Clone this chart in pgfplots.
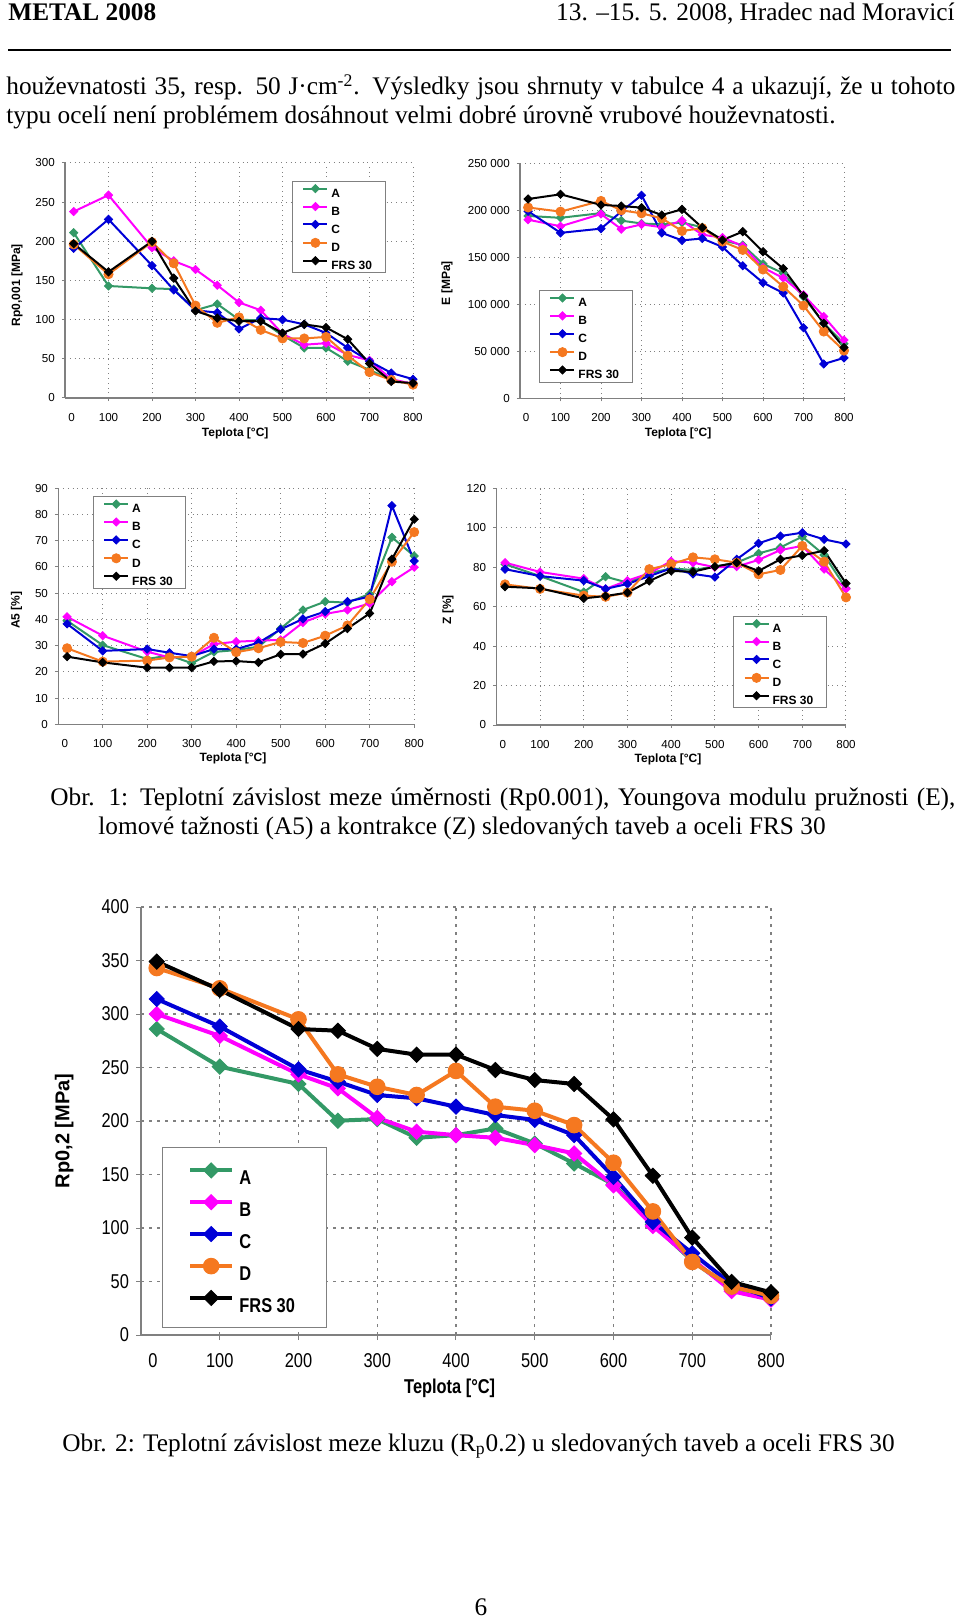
\documentclass[border=0pt]{standalone}
\usepackage{pgfplots}
\pgfplotsset{compat=1.18}
\usepackage{pgfplotstable}
\usepackage{fontspec}
\setmainfont{Liberation Serif}
\newfontfamily\arial{Liberation Sans}
\newfontfamily\arialn[FakeStretch=0.82]{Liberation Sans}

\definecolor{cA}{RGB}{51,153,102}
\definecolor{cB}{RGB}{255,0,255}
\definecolor{cC}{RGB}{0,0,215}
\definecolor{cD}{RGB}{245,120,32}
\definecolor{axgray}{RGB}{128,128,128}

\newcommand\px[2]{({(#1)*0.5pt},{-(#2)*0.5pt})}

\pgfplotstableread{
T A B C D F
20  211 238 191 196 197
100 143 259 228 158 161
200 140 192 169 199 200
250 139 175 138 172 153
300 112 164 112 118 111
350 120 144 109 96 102
400 100 122 88 103 98
450 99 112 102 87 98
500 80 82 100 76 83
550 64 68 94 76 94
600 64 70 83 78 90
650 47 55 64 54 75
700 36 48 47 33 44
750 23 24 32 23 21
800 18 18 24 17 19
}\rpa

\pgfplotstableread{
T A B C D F
20  194000 190000 199000 203000 212000
100 192000 183000 176000 198600 217000
200 197000 196000 180500 210000 205700
250 189000 180000 198600 200000 204600
300 186000 185000 216000 196800 202800
350 185000 182000 176000 191500 195000
400 187000 189000 168000 178000 201000
450 182000 174000 170000 181000 181600
500 168000 171000 161000 166700 168400
550 163000 162000 141000 157800 177300
600 143000 139000 123000 137000 156000
650 133000 128000 112000 118800 138000
700 108000 110000 75000 98600 109000
750 80000 87000 36500 71000 79800
800 58000 62000 43000 50700 54000
}\modE

\pgfplotstableread{
T A B C D F
20  39.5 41 38.3 29 25.8
100 30.2 33.8 28 23.9 23.6
200 24.9 27.7 28.7 24.3 21.6
250 26.3 25.5 27.3 25.5 21.6
300 23.3 25.8 26 25.8 21.6
350 27.6 30.6 28.7 33 24
400 28.3 31.5 28.7 27.5 24.1
450 29.6 31.9 31.1 29 23.6
500 36.5 32.2 36.2 31.4 26.7
550 43.6 38.8 40.2 31 26.8
600 46.8 42.1 43 33.8 30.8
650 46.4 43.6 46.8 37.7 36.5
700 49.7 46.1 48.7 47.7 42.3
750 71.3 54.4 83.4 62 63
800 64.2 59.9 62.3 73.3 78.2
}\afive

\pgfplotstableread{
T A B C D F
20  81.5 82.3 79 71.3 70.1
100 75.5 77.6 75.5 69 69.3
200 67.4 74.2 73.2 65.6 64.2
250 75.2 69 69 65 65.4
300 72.2 73.2 71.5 67.1 67.1
350 76.9 76.9 75.5 79 73
400 79.4 83.1 79.4 81.5 78.1
450 78.6 82.3 76.6 85 77.7
500 80.3 80 75 84 80.3
550 82.3 80.3 84 82.3 82.3
600 87 83.7 92.1 76.4 78.1
650 90 88.7 95.8 78.6 84
700 95.5 90.8 97.5 90.8 86
750 86.2 79 94.1 82.8 88.4
800 69.3 69 91.8 64.7 71.8
}\zet

\pgfplotstableread{
T A B C D F
20  286 300 314 343 349
100 250.8 279.5 288.3 324 322.6
200 234.6 243.6 248.3 295 286
250 200.3 230.5 236.8 243.6 284.4
300 201.8 203 224.3 232 267.4
350 184.3 190 221.2 224.3 262
400 186.8 186.8 213.4 246.8 262
450 193 184.3 205.6 213.4 247.7
500 179 177.5 201 209.6 238.3
550 160.3 169.7 186.8 196.2 234.6
600 140.7 139.8 147.8 161 201.5
650 103.4 101.9 105.6 115.5 148.8
700 69.3 70.8 76.4 68.3 91
750 42.9 41 47.5 45.3 49.7
800 34.2 33 34.2 36.6 39.8
}\rpb

\pgfplotsset{
  /pgf/number format/assume math mode=true,
  common/.style={
    scale only axis, axis lines*=left,
    axis line style={axgray, line width=0.6pt},
    xmin=0, xmax=800, xtick={100,200,...,800},
    extra x ticks={15}, extra x tick labels={0},
    extra x tick style={grid=none, major tick style={draw=none}},
    grid=major, tick align=outside,
    tick style={axgray, line width=0.5pt},
    legend cell align=left,
    ylabel style={anchor=center},
    xlabel style={anchor=center},
  },
  small/.style={
    common,
    major grid style={axgray, dotted, line width=0.5pt},
    major tick length=1.6pt,
    ticklabel style={font=\arial\fontsize{5.8}{7}\selectfont, text=black},
    xticklabel style={yshift=-2.4pt},
    label style={font=\arial\bfseries\fontsize{6}{7}\selectfont},
    legend style={anchor=north west, draw=axgray, line width=0.5pt,
      font=\arial\bfseries\fontsize{6}{7}\selectfont,
      inner xsep=5pt, inner ysep=1.7pt, row sep=2.5pt,
      nodes={inner xsep=1.5pt, inner ysep=0pt, text height=4.4pt, text depth=0pt}},
    legend image code/.code={\draw[mark repeat=2,mark phase=2] plot coordinates {(0pt,2.2pt) (6pt,2.2pt) (12pt,2.2pt)};},
    sA/.style={cA, line width=1pt, mark=square*, mark size=1.45pt, mark options={rotate=45, line width=0.4pt}},
    sB/.style={cB, line width=1pt, mark=square*, mark size=1.45pt, mark options={rotate=45, line width=0.4pt}},
    sC/.style={cC, line width=1pt, mark=square*, mark size=1.45pt, mark options={rotate=45, line width=0.4pt}},
    sD/.style={cD, line width=1pt, mark=*, mark size=2.3pt, mark options={line width=0.4pt}},
    sF/.style={black, line width=1pt, mark=square*, mark size=1.45pt, mark options={rotate=45, line width=0.4pt}},
  },
}

\begin{document}
\begin{tikzpicture}
\fill[white] (0,0) rectangle (480pt,-810pt);
\path[use as bounding box] (0,0) rectangle (480pt,-810pt);

% ---- page text ----
\begin{scope}[every node/.style={inner sep=0pt, font=\fontsize{12.65}{14.5}\selectfont}]
\node[anchor=base west] at \px{8}{21} {\bfseries METAL 2008};
\node[anchor=base east] at \px{955}{21} {13. –15. 5. 2008, Hradec nad Moravicí};
\draw[line width=0.8pt] \px{8}{50} -- \px{951}{50};
\node[anchor=base west] at \px{6}{95} {\makebox[474.5pt][s]{houževnatosti 35, resp. 50 J\textperiodcentered cm\textsuperscript{-2}. Výsledky jsou shrnuty v~tabulce 4 a ukazují, že u tohoto}};
\node[anchor=base west] at \px{6}{124} {typu ocelí není problémem dosáhnout velmi dobré úrovně vrubové houževnatosti.};
\node[anchor=base west] at \px{50}{805} {\makebox[452.5pt][s]{Obr. 1: Teplotní závislost meze úměrnosti (Rp0.001), Youngova modulu pružnosti (E),}};
\node[anchor=base west] at \px{98}{834} {lomové tažnosti (A5) a kontrakce (Z) sledovaných taveb a oceli FRS 30};
\node[anchor=base west] at \px{62}{1451} {Obr. 2: Teplotní závislost meze kluzu (R\textsubscript{p}0.2) u sledovaných taveb a oceli FRS 30};
\node[anchor=base] at \px{481}{1615} {6};
\end{scope}

% ---- chart 1: Rp0,001 ----
\begin{axis}[small, at={(32.5pt,-199pt)}, anchor=south west,
  width=174pt, height=117.5pt, ymin=0, ymax=300, ytick={0,50,...,300},
  ylabel={Rp0,001 [MPa]}, xlabel={Teplota [°C]},
  ylabel style={at={(axis description cs:-0.138,0.48)}},
  xlabel style={at={(axis description cs:0.489,-0.149)}},
  legend style={at={(axis description cs:0.652,0.925)}}]
\addplot[sA] table[x=T,y=A]{\rpa};
\addplot[sB] table[x=T,y=B]{\rpa};
\addplot[sC] table[x=T,y=C]{\rpa};
\addplot[sD] table[x=T,y=D]{\rpa};
\addplot[sF] table[x=T,y=F]{\rpa};
\legend{A,B,C,D,FRS 30}
\end{axis}

% ---- chart 2: E ----
\begin{axis}[small, at={(260pt,-199.15pt)}, anchor=south west,
  width=162pt, height=117.5pt, ymin=0, ymax=250000, ytick={0,50000,...,250000},
  scaled y ticks=false,
  yticklabel style={/pgf/number format/.cd, fixed, 1000 sep={\ }},
  ylabel={E [MPa]}, xlabel={Teplota [°C]},
  ylabel style={at={(axis description cs:-0.225,0.49)}},
  xlabel style={at={(axis description cs:0.488,-0.149)}},
  legend style={at={(axis description cs:0.0586,0.461)}}]
\addplot[sA] table[x=T,y=A]{\modE};
\addplot[sB] table[x=T,y=B]{\modE};
\addplot[sC] table[x=T,y=C]{\modE};
\addplot[sD] table[x=T,y=D]{\modE};
\addplot[sF] table[x=T,y=F]{\modE};
\legend{A,B,C,D,FRS 30}
\end{axis}

% ---- chart 3: A5 ----
\begin{axis}[small, at={(29.1pt,-362.15pt)}, anchor=south west,
  width=178pt, height=118pt, ymin=0, ymax=90, ytick={0,10,...,90},
  ylabel={A5 [\%]}, xlabel={Teplota [°C]},
  ylabel style={at={(axis description cs:-0.117,0.484)}},
  xlabel style={at={(axis description cs:0.491,-0.143)}},
  legend style={at={(axis description cs:0.097,0.967)}}]
\addplot[sA] table[x=T,y=A]{\afive};
\addplot[sB] table[x=T,y=B]{\afive};
\addplot[sC] table[x=T,y=C]{\afive};
\addplot[sD] table[x=T,y=D]{\afive};
\addplot[sF] table[x=T,y=F]{\afive};
\legend{A,B,C,D,FRS 30}
\end{axis}

% ---- chart 4: Z ----
\begin{axis}[small, at={(248.15pt,-362.5pt)}, anchor=south west,
  width=174.85pt, height=118.35pt, ymin=0, ymax=120, ytick={0,20,...,120},
  ylabel={Z [\%]}, xlabel={Teplota [°C]},
  ylabel style={at={(axis description cs:-0.138,0.486)}},
  xlabel style={at={(axis description cs:0.491,-0.144)}},
  legend style={at={(axis description cs:0.677,0.462)}}]
\addplot[sA] table[x=T,y=A]{\zet};
\addplot[sB] table[x=T,y=B]{\zet};
\addplot[sC] table[x=T,y=C]{\zet};
\addplot[sD] table[x=T,y=D]{\zet};
\addplot[sF] table[x=T,y=F]{\zet};
\legend{A,B,C,D,FRS 30}
\end{axis}

% ---- big chart: Rp0,2 ----
\begin{axis}[common, at={(70.5pt,-667.5pt)}, anchor=south west,
  width=315pt, height=214pt, ymin=0, ymax=400, ytick={0,50,...,400},
  major grid style={axgray, dash pattern=on 1.5pt off 2.5pt, line width=0.6pt},
  major tick length=2.5pt,
  ticklabel style={font=\arialn\fontsize{10}{12}\selectfont, text=black},
  xticklabel style={yshift=-3pt},
  xlabel style={font=\arialn\bfseries\fontsize{10}{12}\selectfont, at={(axis description cs:0.49,-0.124)}},
  ylabel style={font=\arial\bfseries\fontsize{10}{12}\selectfont, at={(axis description cs:-0.122,0.477)}},
  ylabel={Rp0,2 [MPa]}, xlabel={Teplota [°C]},
  legend style={at={(axis description cs:0.033,0.439)}, anchor=north west, draw=axgray, line width=0.6pt,
      font=\arialn\bfseries\fontsize{10}{12}\selectfont,
      inner xsep=13pt, inner ysep=7.6pt, row sep=4.95pt,
      nodes={inner xsep=2.75pt, inner ysep=0pt, text height=7.2pt, text depth=0pt}},
  legend image code/.code={\draw[mark repeat=2,mark phase=2] plot coordinates {(0pt,3.6pt) (10.4pt,3.6pt) (20.75pt,3.6pt)};},
  bA/.style={cA, line width=2pt, mark=square*, mark size=2.65pt, mark options={rotate=45, line width=0.5pt}},
  bB/.style={cB, line width=2pt, mark=square*, mark size=2.65pt, mark options={rotate=45, line width=0.5pt}},
  bC/.style={cC, line width=2pt, mark=square*, mark size=2.65pt, mark options={rotate=45, line width=0.5pt}},
  bD/.style={cD, line width=2pt, mark=*, mark size=3.9pt, mark options={line width=0.5pt}},
  bF/.style={black, line width=2pt, mark=square*, mark size=2.65pt, mark options={rotate=45, line width=0.5pt}},
  ]
\addplot[bA] table[x=T,y=A]{\rpb};
\addplot[bB] table[x=T,y=B]{\rpb};
\addplot[bC] table[x=T,y=C]{\rpb};
\addplot[bD] table[x=T,y=D]{\rpb};
\addplot[bF] table[x=T,y=F]{\rpb};
\legend{A,B,C,D,FRS 30}
\end{axis}
\end{tikzpicture}
\end{document}
